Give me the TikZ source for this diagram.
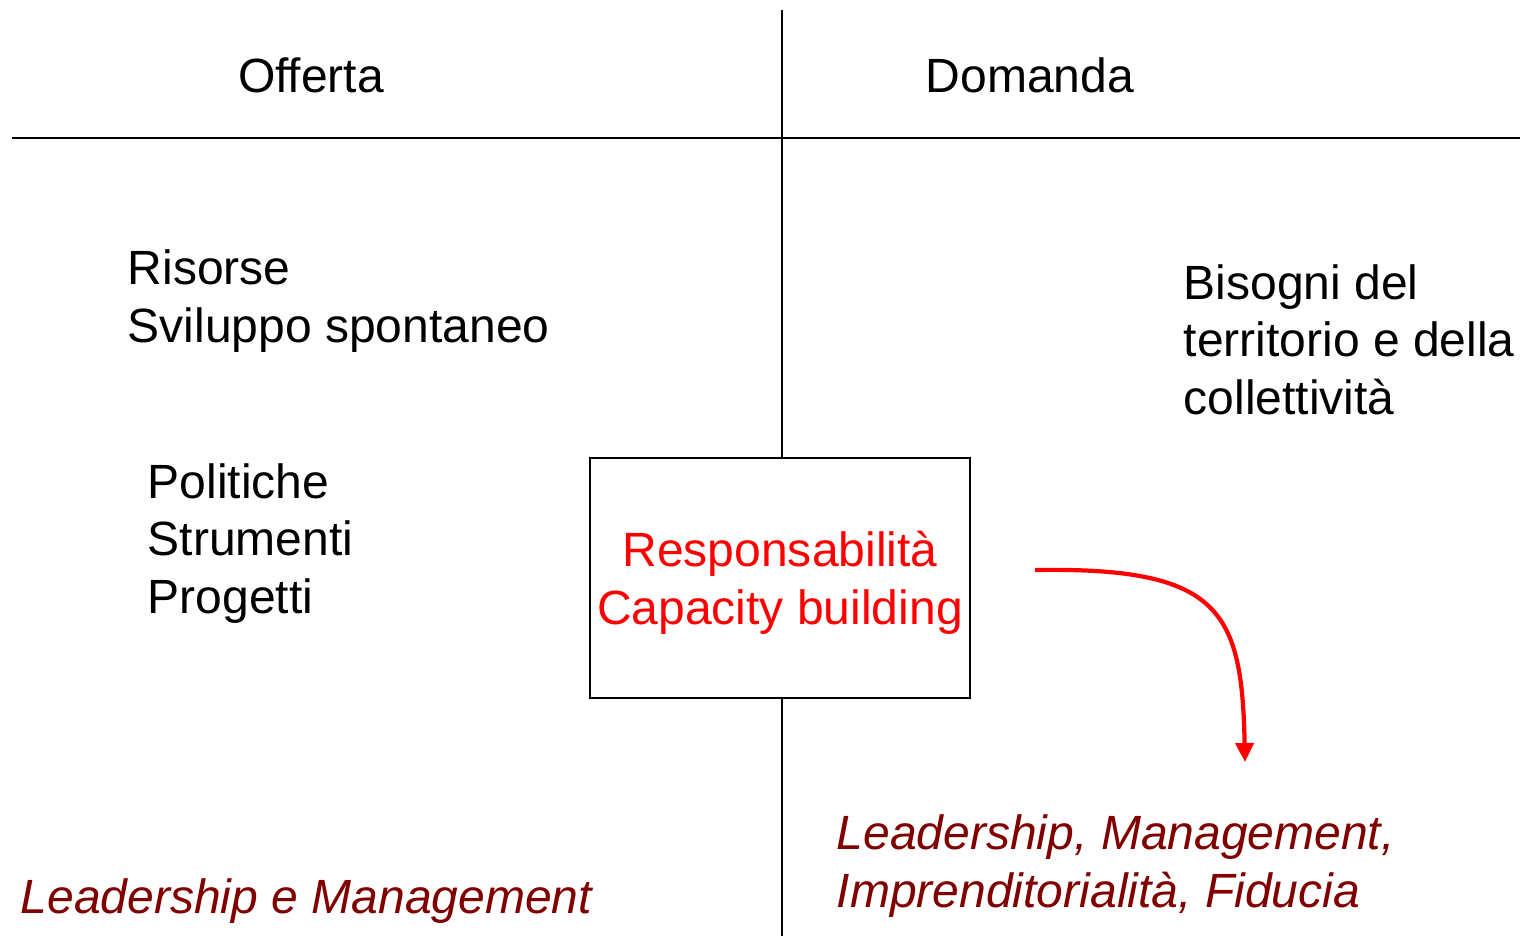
\documentclass[tikz,border=0pt]{standalone}
\usepackage{fontspec}
\setmainfont{Liberation Sans}
\usetikzlibrary{arrows.meta,positioning}

\definecolor{darkred}{RGB}{128,0,0}

\tikzset{
  body/.style={font=\fontsize{13.66}{16.35}\selectfont, inner sep=0pt, align=left},
  lead/.style={body, text=darkred, font=\fontsize{13.66}{16.35}\selectfont\itshape},
  axis/.style={line width=0.6pt},
}

\begin{document}
\begin{tikzpicture}[x=0.01cm,y=-0.01cm]
\useasboundingbox (0,0) rectangle (1520,936);
% Axes
  \draw[axis] (782,10) -- (782,936);
  \draw[axis] (12,138) -- (1520,138);
% Headings
  \node[body, anchor=base] (offerta) at (311,92) {Offerta};
  \node[body, anchor=base] (domanda) at (1030,92) {Domanda};
% Offerta side (base = last line)
  \node[body, anchor=base west] (risorse) at (127,342) {Risorse\\Sviluppo spontaneo};
  \node[body, anchor=base west] (politiche) at (147,613) {Politiche\\Strumenti\\Progetti};
  \node[lead, anchor=base west] (leadoff) at (20,913) {Leadership e Management};
% Domanda side
  \node[body, anchor=base west] (bisogni) at (1183,414) {Bisogni del\\territorio e della\\collettività};
  \node[lead, anchor=base west] (leaddom) at (836,907) {Leadership, Management,\\Imprenditorialità, Fiducia};
% Centre box
  \node[draw=black, line width=0.6pt, fill=white,
        minimum width=3.8cm, minimum height=2.4cm] (resp) at (780,578) {};
  \node[body, align=center, text=red] (resptext) at ([yshift=-0.5mm]resp.center)
        {Responsabilità\\Capacity building};
% Arrow
  \coordinate (arrstart) at (1035,570);
  \coordinate (arrend) at (1245,762);
  \draw[red, line width=1.2pt, -{Triangle[length=1.9mm,width=1.8mm]}]
    (arrstart) .. controls (1220,567) and (1242,610) .. (arrend);
\end{tikzpicture}
\end{document}
